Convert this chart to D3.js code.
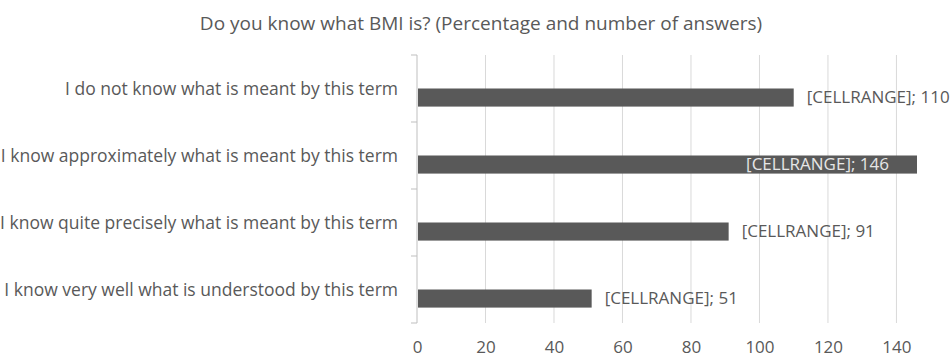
<!DOCTYPE html>
<html>
<head>
<meta charset="utf-8">
<script src="https://cdn.jsdelivr.net/npm/d3@7"></script>
<style>
  body { margin: 0; background: #fff; }
  text { font-family: "Open Sans", "Liberation Sans", Arial, sans-serif; fill: #595959; }
</style>
</head>
<body>
<div id="chart"></div>
<script>
// chart data
const categories = [
    "I do not know what is meant by this term",
    "I know approximately what is meant by this term",
    "I know quite precisely what is meant by this term",
    "I know very well what is understood by this term"
];
const series = ["percent", "count"];
const counts = [110, 146, 91, 51];
const percentLabels = ["[CELLRANGE]", "[CELLRANGE]", "[CELLRANGE]", "[CELLRANGE]"];
const xTicks = [0, 20, 40, 60, 80, 100, 120, 140];

const width = 952, height = 360;
const margin = {top: 55, right: 35, bottom: 37, left: 417};

const svg = d3.select("#chart").append("svg")
    .attr("width", width)
    .attr("height", height);

// title
svg.append("text")
    .attr("x", 481)
    .attr("y", 30)
    .attr("text-anchor", "middle")
    .style("font-size", "19px")
    .text("Do you know what BMI is? (Percentage and number of answers)");

const x = d3.scaleLinear()
    .domain([0, 146])
    .range([margin.left, 917]);

const y = d3.scaleBand()
    .domain(categories)
    .range([margin.top, height - margin.bottom])
    .paddingInner(0.46)
    .paddingOuter(0.23);

// inner scale: percent series is empty, count series is drawn
const y1 = d3.scaleBand()
    .domain(series)
    .range([0, y.bandwidth()]);

// gridlines
svg.append("g")
    .selectAll("line")
    .data(xTicks.slice(1))
    .enter()
    .append("line")
    .attr("x1", d => x(d))
    .attr("x2", d => x(d))
    .attr("y1", margin.top)
    .attr("y2", height - margin.bottom)
    .attr("stroke", "#d9d9d9")
    .attr("stroke-width", 1);

// x axis labels
const xAxis = d3.axisBottom(x)
    .tickValues(xTicks)
    .tickSize(0)
    .tickPadding(18);

svg.append("g")
    .attr("class", "x-axis")
    .attr("transform", "translate(0," + (height - margin.bottom) + ")")
    .call(xAxis)
    .call(g => g.select(".domain").remove())
    .selectAll("text")
    .style("font-size", "17px")
    .style("font-family", null);

// y axis line with tick marks at category boundaries
const bounds = d3.range(categories.length + 1).map(i => margin.top + i * (height - margin.top - margin.bottom) / categories.length);

svg.append("line")
    .attr("x1", margin.left)
    .attr("x2", margin.left)
    .attr("y1", margin.top)
    .attr("y2", height - margin.bottom)
    .attr("stroke", "#bfbfbf");

svg.append("g")
    .selectAll("line")
    .data(bounds)
    .enter()
    .append("line")
    .attr("x1", margin.left - 6)
    .attr("x2", margin.left)
    .attr("y1", d => d)
    .attr("y2", d => d)
    .attr("stroke", "#bfbfbf");

// category labels
svg.append("g")
    .selectAll("text")
    .data(categories)
    .enter()
    .append("text")
    .attr("x", margin.left - 19)
    .attr("y", d => y(d) + y.bandwidth() / 2)
    .attr("dy", "0.35em")
    .attr("text-anchor", "end")
    .style("font-size", "17.5px")
    .text(d => d);

// bars
const rows = categories.map((c, i) => ({cat: c, value: counts[i], pct: percentLabels[i]}));

svg.append("g")
    .selectAll("rect")
    .data(rows)
    .enter()
    .append("rect")
    .attr("x", x(0) + 1)
    .attr("y", d => y(d.cat) + y1("count"))
    .attr("width", d => x(d.value) - x(0) - 1)
    .attr("height", y1.bandwidth())
    .attr("fill", "#595959");

// data labels
const labels = svg.append("g")
    .selectAll("text")
    .data(rows)
    .enter()
    .append("text")
    .attr("y", d => y(d.cat) + y1("count") + y1.bandwidth() / 2)
    .attr("dy", "0.35em")
    .style("font-size", "17px")
    .text(d => d.pct + "; " + d.value);

// labels that do not fit outside go inside the bar end, in light grey
labels.each(function(d) {
    const w = this.getComputedTextLength();
    const outside = x(d.value) + 13;
    if (outside + w > width) {
        d3.select(this)
            .attr("x", x(d.value) - 28)
            .attr("text-anchor", "end")
            .style("fill", "#e6e6e6");
    } else {
        d3.select(this).attr("x", outside);
    }
});
</script>
</body>
</html>
